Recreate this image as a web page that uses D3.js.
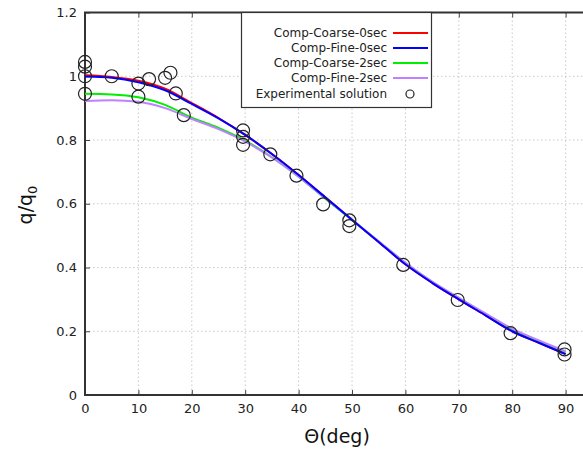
<!DOCTYPE html>
<html lang="en">
<head>
<meta charset="UTF-8">
<title>q/q0 vs angle</title>
<style>
  body { margin: 0; background: #fff; }
  svg { display: block; font-family: "DejaVu Sans", Verdana, sans-serif; }
  .grid line { stroke: #c8c8c8; stroke-dasharray: 1.5,2.5; }
  .tick text { fill: #222; }
</style>
</head>
<body>
<svg width="583" height="450"></svg>
<script src="https://d3js.org/d3.v7.min.js"></script>
<script>
// angles at which the computed curves are sampled (deg)
const theta = [0, 5, 10, 15, 20, 25, 30, 35, 40, 45, 50, 55, 60, 65, 70, 75, 80, 85, 90];

const coarse0 = [1.003, 0.998, 0.986, 0.961, 0.916, 0.869, 0.816, 0.756, 0.690, 0.620, 0.550, 0.480, 0.410, 0.352, 0.300, 0.250, 0.200, 0.164, 0.128];
const fine0   = [0.999, 0.995, 0.981, 0.956, 0.913, 0.868, 0.816, 0.756, 0.690, 0.620, 0.550, 0.480, 0.410, 0.352, 0.300, 0.250, 0.200, 0.164, 0.128];
const coarse2 = [0.945, 0.943, 0.934, 0.910, 0.870, 0.838, 0.798, 0.746, 0.685, 0.616, 0.549, 0.481, 0.414, 0.355, 0.304, 0.254, 0.205, 0.169, 0.134];
const fine2   = [0.922, 0.925, 0.920, 0.900, 0.866, 0.834, 0.795, 0.745, 0.685, 0.617, 0.550, 0.482, 0.415, 0.356, 0.305, 0.256, 0.208, 0.171, 0.137];

// experimental points
const expTheta = [0, 0, 0, 0, 5, 10, 10, 12, 15, 16, 17, 18.5, 29.6, 29.6, 29.6, 34.7, 39.6, 44.6, 49.5, 49.5, 59.6, 69.8, 79.7, 89.8, 89.8];
const expQ     = [1.045, 1.03, 1.0, 0.945, 1.0, 0.977, 0.936, 0.991, 0.995, 1.011, 0.946, 0.878, 0.83, 0.81, 0.785, 0.755, 0.688, 0.598, 0.548, 0.53, 0.408, 0.298, 0.194, 0.143, 0.127];

const seriesNames  = ["Comp-Coarse-0sec", "Comp-Fine-0sec", "Comp-Coarse-2sec", "Comp-Fine-2sec"];
const seriesColors = ["#ff0000", "#0000ff", "#00ee00", "#c080ff"];
const seriesValues = [coarse0, fine0, coarse2, fine2];

const xTicks = [0, 10, 20, 30, 40, 50, 60, 70, 80, 90];
const yTicks = [0, 0.2, 0.4, 0.6, 0.8, 1, 1.2];

const svg = d3.select("svg");
const mLeft = 85, mTop = 12.5, mBottom = 395, mRight = 619;

const x = d3.scaleLinear().domain([0, 100]).range([mLeft, mRight]);
const y = d3.scaleLinear().domain([0, 1.2]).range([mBottom, mTop]);

// grid
const grid = svg.append("g").attr("class", "grid");
grid.selectAll("line.v").data(xTicks.slice(1)).join("line")
    .attr("x1", d => x(d)).attr("x2", d => x(d)).attr("y1", mTop).attr("y2", mBottom);
grid.selectAll("line.h").data(yTicks.slice(1, -1)).join("line")
    .attr("x1", mLeft).attr("x2", mRight).attr("y1", d => y(d)).attr("y2", d => y(d));

// axes (inner ticks)
const fmt = d => String(+d.toFixed(1));
svg.append("g")
    .attr("transform", `translate(0,${mBottom})`)
    .call(d3.axisBottom(x).tickValues(xTicks).tickSize(-5).tickPadding(9).tickFormat(d3.format("d")))
    .call(g => g.select(".domain").remove())
    .call(g => g.selectAll(".tick line").attr("stroke", "#444"))
    .call(g => g.selectAll("text").attr("font-size", 13).attr("font-family", "DejaVu Sans"));
svg.append("g")
    .attr("transform", `translate(0,${mTop})`)
    .call(d3.axisTop(x).tickValues(xTicks).tickSize(-5).tickFormat(""))
    .call(g => g.select(".domain").remove())
    .call(g => g.selectAll(".tick line").attr("stroke", "#444"));
svg.append("g")
    .attr("transform", `translate(${mLeft},0)`)
    .call(d3.axisLeft(y).tickValues(yTicks).tickSize(-5).tickPadding(8).tickFormat(fmt))
    .call(g => g.select(".domain").remove())
    .call(g => g.selectAll(".tick line").attr("stroke", "#444"))
    .call(g => g.selectAll("text").attr("font-size", 13).attr("font-family", "DejaVu Sans"));

// frame
svg.append("rect")
    .attr("x", mLeft).attr("y", mTop)
    .attr("width", mRight - mLeft).attr("height", mBottom - mTop)
    .attr("fill", "none").attr("stroke", "#333").attr("stroke-width", 2);

// computed curves
const line = d3.line()
    .x((d, i) => x(theta[i]))
    .y(d => y(d))
    .curve(d3.curveMonotoneX);

const drawOrder = [0, 2, 3, 1];
drawOrder.forEach(k => {
  svg.append("path")
      .datum(seriesValues[k])
      .attr("d", line)
      .attr("fill", "none")
      .attr("stroke", seriesColors[k])
      .attr("stroke-width", 2);
});

// experimental points
svg.append("g").selectAll("circle")
    .data(expTheta.map((t, i) => [t, expQ[i]]))
    .join("circle")
    .attr("cx", d => x(d[0]))
    .attr("cy", d => y(d[1]))
    .attr("r", 6.5)
    .attr("fill", "none")
    .attr("stroke", "#222")
    .attr("stroke-width", 1.2);

// legend
const lg = svg.append("g");
lg.append("rect")
    .attr("x", 241.5).attr("y", mTop).attr("width", 190).attr("height", 95)
    .attr("fill", "#fff").attr("stroke", "#333").attr("stroke-width", 1.2);
const rowY = [33, 48, 63, 78, 94];
seriesNames.concat(["Experimental solution"]).forEach((name, i) => {
  lg.append("text")
      .attr("x", 387).attr("y", rowY[i])
      .attr("dy", "0.35em")
      .attr("text-anchor", "end")
      .attr("font-size", 12)
      .attr("fill", "#222")
      .text(name);
  if (i < 4) {
    lg.append("line")
        .attr("x1", 393).attr("x2", 428)
        .attr("y1", rowY[i]).attr("y2", rowY[i])
        .attr("stroke", seriesColors[i]).attr("stroke-width", 2);
  } else {
    lg.append("circle")
        .attr("cx", 410).attr("cy", rowY[i]).attr("r", 4)
        .attr("fill", "none").attr("stroke", "#222").attr("stroke-width", 1.2);
  }
});

// axis titles
svg.append("text")
    .attr("x", 337).attr("y", 443)
    .attr("text-anchor", "middle")
    .attr("font-size", 19)
    .attr("fill", "#111")
    .text("Θ(deg)");

const yt = svg.append("text")
    .attr("transform", "translate(32,205) rotate(-90)")
    .attr("text-anchor", "middle")
    .attr("font-size", 19)
    .attr("fill", "#111");
yt.append("tspan").text("q/q");
yt.append("tspan").attr("font-size", 13).attr("dy", 5).text("0");
</script>
</body>
</html>
